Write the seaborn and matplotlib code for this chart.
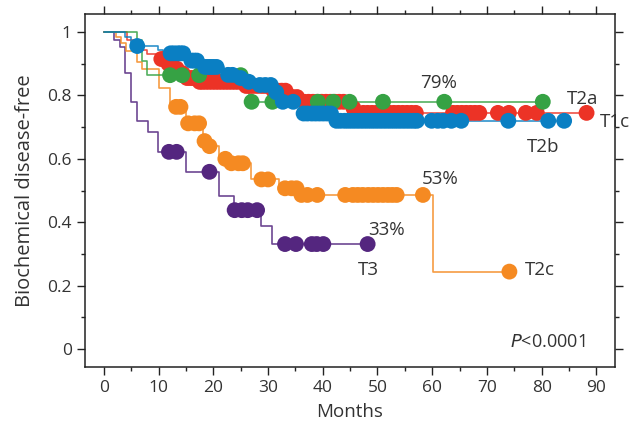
import numpy as np
import pandas as pd
import matplotlib
matplotlib.use("Agg")
import matplotlib.pyplot as plt
import seaborn as sns
from matplotlib.ticker import MultipleLocator

# Kaplan-Meier step data (months, survival after step)
t3_times = [1.9, 2.9, 3.8, 4.9, 6.0, 8.0, 9.9, 15.0, 21.1, 23.8, 28.8, 30.8]
t3_surv = [0.975, 0.954, 0.872, 0.778, 0.72, 0.685, 0.622, 0.559, 0.483, 0.438, 0.389, 0.331]
t3_cens = [11.9, 13.3, 19.3, 23.9, 25.2, 26.3, 28.0, 33.1, 35.1, 38.0, 38.9, 40.1, 48.2]

t2c_times = [2.2, 3.1, 4.0, 6.0, 6.9, 10.1, 12.1, 15.0, 18.1, 18.8, 21.0, 22.7, 26.9, 32.0, 35.5, 60.2]
t2c_surv = [0.985, 0.965, 0.941, 0.906, 0.882, 0.822, 0.764, 0.712, 0.656, 0.640, 0.600, 0.586,
            0.535, 0.507, 0.486, 0.244]
t2c_cens = [13.2, 14.0, 15.4, 16.6, 17.4, 18.4, 19.3, 22.2, 23.3, 24.6, 25.4, 28.8, 30.0, 33.1,
            34.3, 35.2, 36.1, 37.2, 39.0, 44.1, 45.5, 46.4, 47.3, 48.3, 49.2, 50.1, 51.0, 51.9,
            52.7, 53.5, 58.3, 74.1]

t1c_times = [4.3, 5.6, 6.9, 7.9, 9.9, 11.5, 12.6, 13.6, 14.8, 17.0, 25.5, 30.5, 34.0, 36.0, 45.0, 46.8]
t1c_surv = [0.975, 0.96, 0.945, 0.93, 0.915, 0.90, 0.885, 0.87, 0.855, 0.843, 0.83, 0.815,
            0.795, 0.78, 0.76, 0.745]
t1c_cens = [10.5, 11.0, 11.8, 12.2, 12.9, 13.3, 14.0, 14.4, 15.2, 15.8, 16.3, 17.5, 18.0, 18.6,
            19.2, 19.8, 20.4, 21.0, 21.6, 22.2, 22.8, 23.4, 24.0, 24.6, 26.0, 26.6, 27.2, 28.0,
            28.8, 29.5, 31.0, 31.8, 32.5, 33.2, 34.5, 35.3, 36.6, 37.4, 38.2, 39.0, 39.8, 40.6,
            41.4, 42.2, 43.0, 43.8, 45.6, 47.4, 48.2, 49.0, 49.8, 50.6, 51.4, 52.2, 53.0, 53.8,
            54.6, 55.4, 56.2, 57.0, 63.8, 64.6, 65.4, 66.2, 67.0, 67.8, 68.6, 72.0, 74.0, 77.1,
            79.1, 88.2]

t2a_times = [6.0, 6.9, 7.9, 26.6]
t2a_surv = [0.975, 0.91, 0.864, 0.78]
t2a_cens = [12.1, 14.3, 17.4, 25.0, 27.0, 30.8, 39.1, 41.9, 44.9, 51.0, 62.2, 80.2]

t2b_times = [3.8, 5.0, 9.9, 10.8, 15.5, 18.0, 22.0, 24.5, 26.0, 28.0, 31.0, 32.3, 36.1, 42.2]
t2b_surv = [0.985, 0.956, 0.943, 0.933, 0.91, 0.89, 0.865, 0.855, 0.843, 0.833, 0.81, 0.78,
            0.743, 0.72]
t2b_cens = [6.1, 12.2, 12.8, 13.5, 14.0, 14.5, 16.0, 16.5, 17.0, 18.5, 19.0, 19.5, 20.0, 20.6,
            22.7, 23.5, 25.0, 26.5, 28.5, 29.5, 30.5, 31.5, 32.7, 34.6, 36.5, 37.2, 38.0, 38.7,
            39.4, 40.1, 40.8, 41.5, 42.5, 43.2, 44.0, 44.7, 45.4, 46.1, 46.8, 47.5, 48.2, 48.9,
            49.6, 50.3, 51.0, 51.7, 52.4, 53.1, 53.8, 54.5, 55.2, 55.9, 56.6, 57.2, 59.9, 61.0,
            62.0, 63.5, 65.3, 73.9, 81.2, 84.1]

groups = {
    "T3": (t3_times, t3_surv, t3_cens),
    "T2c": (t2c_times, t2c_surv, t2c_cens),
    "T1c": (t1c_times, t1c_surv, t1c_cens),
    "T2a": (t2a_times, t2a_surv, t2a_cens),
    "T2b": (t2b_times, t2b_surv, t2b_cens),
}
colors = {"T3": "#54267f", "T2c": "#f58a22", "T1c": "#ec3326",
          "T2a": "#36a244", "T2b": "#0a7fc3"}

# build step curves and censor points
line_rows, cens_rows = [], []
for g, (tt, ss, cc) in groups.items():
    t = np.array([0.0] + tt + [max(cc)])
    s = np.array([1.0] + ss + [ss[-1]])
    for a, b in zip(t, s):
        line_rows.append((g, a, b))
    for c in cc:
        idx = np.searchsorted(t[:-1], c, side="right") - 1
        cens_rows.append((g, c, s[idx]))
lines = pd.DataFrame(line_rows, columns=["group", "months", "surv"])
cens = pd.DataFrame(cens_rows, columns=["group", "months", "surv"])

sns.set_style("ticks")
plt.rcParams["font.family"] = ["Open Sans", "DejaVu Sans"]
txt = "#333333"

fig = plt.figure(figsize=(6.38, 4.25), dpi=100)
ax = fig.add_axes([0.133, 0.1365, 0.831, 0.8305])

sns.lineplot(data=lines, x="months", y="surv", hue="group", palette=colors,
             drawstyle="steps-post", estimator=None, sort=False, legend=False,
             lw=1.2, alpha=0.85, ax=ax, zorder=2)
sns.scatterplot(data=cens, x="months", y="surv", hue="group", palette=colors,
                s=130, linewidth=0, legend=False, ax=ax, zorder=3)

ax.set_xlim(-3.47, 93.4)
ax.set_ylim(-0.057, 1.057)
ax.set_xticks(range(0, 91, 10))
ax.xaxis.set_minor_locator(MultipleLocator(5))
ax.set_yticks([0, 0.2, 0.4, 0.6, 0.8, 1.0])
ax.set_yticklabels(["0", "0.2", "0.4", "0.6", "0.8", "1"])
ax.yaxis.set_minor_locator(MultipleLocator(0.1))
ax.tick_params(which="both", direction="out", top=True, right=True,
               labelsize=12.5, labelcolor=txt, width=1, color="#222222")
ax.tick_params(which="major", length=6)
ax.tick_params(which="minor", length=3)
for sp in ax.spines.values():
    sp.set_linewidth(1.1)
    sp.set_color("#222222")

ax.set_xlabel("Months", fontsize=13.5, color=txt, labelpad=5)
ax.set_ylabel("Biochemical disease-free", fontsize=14.5, color=txt, labelpad=9)

annot = [("79%", 61.2, 0.838, "center"), ("T2a", 84.6, 0.79, "left"),
         ("T1c", 90.7, 0.717, "left"), ("T2b", 77.3, 0.637, "left"),
         ("53%", 58.1, 0.536, "left"), ("T2c", 77.0, 0.249, "left"),
         ("33%", 48.3, 0.375, "left"), ("T3", 46.4, 0.249, "left")]
for label, x, y, ha in annot:
    ax.text(x, y, label, fontsize=13.5, color=txt, ha=ha, va="center", clip_on=False, zorder=5)
ax.text(87.9, 0.022, r"$\it{P}$<0.0001", fontsize=13, color=txt, ha="right", va="center")

fig.savefig("out.png", dpi=100)
